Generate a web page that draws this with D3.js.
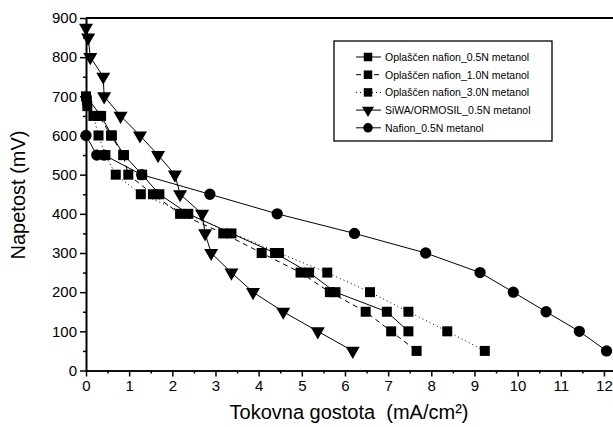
<!doctype html>
<html>
<head>
<meta charset="utf-8">
<script src="https://cdnjs.cloudflare.com/ajax/libs/d3/7.8.5/d3.min.js"></script>
<style>
  body { margin: 0; background: #fff; }
  text { font-family: "Liberation Sans", Arial, sans-serif; fill: #000; }
</style>
</head>
<body>
<svg width="613" height="427"></svg>
<script>
// values: current density (mA/cm2) and voltage (mV)
var xTicks = [0, 1, 2, 3, 4, 5, 6, 7, 8, 9, 10, 11, 12];
var yTicks = [0, 100, 200, 300, 400, 500, 600, 700, 800, 900];

var oplasc05_x = [0, 0.35, 0.6, 0.88, 1.3, 1.7, 2.37, 3.37, 4.38, 5.17, 5.78, 6.97, 7.47];
var oplasc05_y = [700, 650, 600, 550, 500, 450, 400, 350, 300, 250, 200, 150, 100];

var oplasc10_x = [0.03, 0.3, 0.58, 0.86, 0.98, 1.55, 2.18, 3.18, 4.07, 4.97, 5.65, 6.48, 7.07, 7.66];
var oplasc10_y = [675, 650, 600, 550, 500, 450, 400, 350, 300, 250, 200, 150, 100, 50];

var oplasc30_x = [0.02, 0.17, 0.29, 0.45, 0.69, 1.27, 4.47, 5.59, 6.58, 7.47, 8.37, 9.24];
var oplasc30_y = [690, 650, 600, 550, 500, 450, 300, 250, 200, 150, 100, 50];

var siwa_x = [0, 0.05, 0.1, 0.4, 0.42, 0.8, 1.25, 1.67, 2.06, 2.18, 2.69, 2.76, 2.9, 3.37, 3.87, 4.57, 5.37, 6.18];
var siwa_y = [875, 850, 800, 750, 700, 650, 600, 550, 500, 450, 400, 350, 300, 250, 200, 150, 100, 50];

var nafion_x = [0, 0.25, 0.42, 1.29, 2.87, 4.43, 6.22, 7.87, 9.13, 9.9, 10.66, 11.43, 12.06];
var nafion_y = [600, 550, 550, 500, 450, 400, 350, 300, 250, 200, 150, 100, 50];

var seriesNames = ["Opla\u0161\u010Den nafion_0.5N metanol", "Opla\u0161\u010Den nafion_1.0N metanol",
                   "Opla\u0161\u010Den nafion_3.0N metanol", "SiWA/ORMOSIL_0.5N metanol", "Nafion_0.5N metanol"];

var series = [
  {name: seriesNames[0], xs: oplasc05_x, ys: oplasc05_y, sym: "square", dash: null},
  {name: seriesNames[1], xs: oplasc10_x, ys: oplasc10_y, sym: "square", dash: "5,4"},
  {name: seriesNames[2], xs: oplasc30_x, ys: oplasc30_y, sym: "square", dash: "1,3"},
  {name: seriesNames[3], xs: siwa_x, ys: siwa_y, sym: "triangle", dash: null},
  {name: seriesNames[4], xs: nafion_x, ys: nafion_y, sym: "circle", dash: null}
];

var svg = d3.select("svg");
var plotL = 86, plotR = 613, plotT = 18, plotB = 370.5;

var x = d3.scaleLinear().domain([0, 12.21]).range([plotL, plotR]);
var y = d3.scaleLinear().domain([0, 900]).range([plotB, plotT]);

function symbolPath(kind) {
  if (kind == "square") return d3.symbol().type(d3.symbolSquare).size(100)();
  if (kind == "circle") return d3.symbol().type(d3.symbolCircle).size(100)();
  return d3.symbol().type(d3.symbolTriangle).size(85)();
}
function symbolTransform(kind, px, py) {
  if (kind == "triangle") return "translate(" + px + "," + py + ") rotate(180)";
  return "translate(" + px + "," + py + ")";
}

// top frame
svg.append("line")
  .attr("x1", plotL).attr("x2", plotR).attr("y1", plotT).attr("y2", plotT)
  .style("stroke", "#000").style("stroke-width", 2);

// minor ticks
var minorX = d3.range(0.5, 12.2, 1);
var minorY = d3.range(50, 900, 100);

var gx = svg.append("g").attr("transform", "translate(0," + plotB + ")");
gx.call(d3.axisBottom(x).tickValues(xTicks).tickSize(6).tickSizeOuter(0).tickPadding(4));
gx.append("g").call(d3.axisBottom(x).tickValues(minorX).tickSize(3).tickFormat("").tickSizeOuter(0));

var gy = svg.append("g").attr("transform", "translate(" + plotL + ",0)");
gy.call(d3.axisLeft(y).tickValues(yTicks).tickSize(6).tickSizeOuter(0).tickPadding(3));
gy.append("g").call(d3.axisLeft(y).tickValues(minorY).tickSize(3).tickFormat("").tickSizeOuter(0));

svg.selectAll(".domain").style("stroke", "#000").style("stroke-width", 1.6);
svg.selectAll(".tick line").style("stroke", "#000").style("stroke-width", 1.5);
svg.selectAll(".tick text").style("font-size", "15px").style("font-family", "Liberation Sans, Arial, sans-serif");

// lines and markers
var line = d3.line().x(d => x(d[0])).y(d => y(d[1]));
series.forEach(s => {
  var pts = s.xs.map((v, i) => [v, s.ys[i]]);
  svg.append("path")
    .attr("d", line(pts))
    .style("fill", "none")
    .style("stroke", "#000")
    .style("stroke-width", 1)
    .style("stroke-dasharray", s.dash);
  svg.append("g").selectAll("path")
    .data(pts)
    .enter()
    .append("path")
    .attr("d", symbolPath(s.sym))
    .attr("transform", d => symbolTransform(s.sym, x(d[0]), y(d[1])))
    .style("fill", "#000");
});

// axis titles
svg.append("text")
  .attr("transform", "translate(25,195) rotate(-90)")
  .attr("text-anchor", "middle")
  .style("font-size", "20px")
  .text("Napetost (mV)");

svg.append("text")
  .attr("x", 349).attr("y", 419)
  .attr("text-anchor", "middle")
  .style("font-size", "20px")
  .style("white-space", "pre")
  .text("Tokovna gostota  (mA/cm\u00B2)");

// legend
var leg = svg.append("g");
leg.append("rect")
  .attr("x", 334).attr("y", 41).attr("width", 218).attr("height", 100)
  .style("fill", "#fff").style("stroke", "#000").style("stroke-width", 1.3);
series.forEach((s, i) => {
  var ly = 57 + i * 17.7;
  leg.append("line")
    .attr("x1", 356).attr("x2", 381).attr("y1", ly).attr("y2", ly)
    .style("stroke", "#000").style("stroke-width", 1)
    .style("stroke-dasharray", s.dash);
  leg.append("path")
    .attr("d", symbolPath(s.sym))
    .attr("transform", symbolTransform(s.sym, 368, ly) + " scale(0.85)")
    .style("fill", "#000");
  leg.append("text")
    .attr("x", 385).attr("y", ly + 4)
    .style("font-size", "10.5px")
    .text(s.name);
});
</script>
</body>
</html>
